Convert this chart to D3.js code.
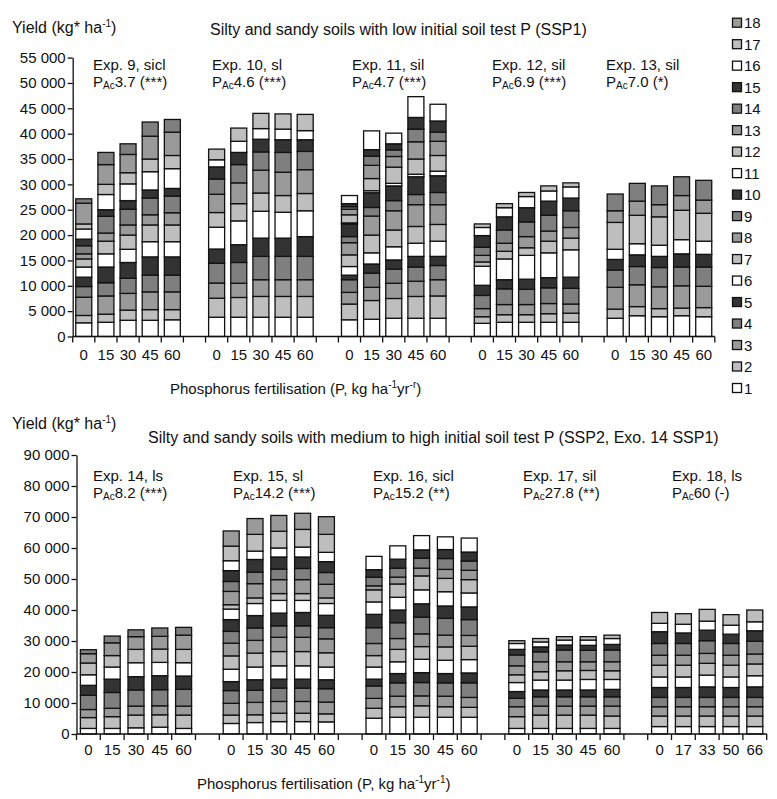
<!DOCTYPE html>
<html>
<head>
<meta charset="utf-8">
<script src="https://cdn.jsdelivr.net/npm/d3@7"></script>
<style>
    body {
        margin: 0;
        background: #ffffff;
    }

    svg {
        display: block;
        font-family: "Liberation Sans", Arial, Helvetica, sans-serif;
    }

    text {
        font-size: 15px;
        fill: #111;
    }

    text.title {
        font-size: 16px;
    }
</style>
</head>
<body>
<svg width="777" height="799"></svg>
<script>
    // seasons (legend entries), bottom of each bar first
    const SEASONS = ["1", "2", "3", "4", "5", "6", "7", "8", "9", "10", "11", "12", "13", "14", "15", "16", "17", "18"];
    // the five fills repeat every five seasons
    const SHADES = ["#ffffff", "#bebebe", "#9a9a9a", "#7f7f7f", "#333333"];

    const RATES = [0, 15, 30, 45, 60];
    const RATES_18 = [0, 17, 33, 50, 66];

    const TOP_TICKS = [0, 5000, 10000, 15000, 20000, 25000, 30000, 35000, 40000, 45000, 50000, 55000];
    const BOTTOM_TICKS = [0, 10000, 20000, 30000, 40000, 50000, 60000, 70000, 80000, 90000];

    // yield per season in t/ha, one row per P rate
    const EXP9 = [
        [2.7, 1.45, 3.6, 2.1, 1.85, 2.0, 1.6, 1.0, 1.6, 1.3, 2.0, 1.0, 4.1, 0.85],
        [2.8, 1.6, 3.6, 2.6, 3.1, 2.6, 2.5, 1.6, 3.3, 1.3, 3.0, 2.0, 3.9, 2.4],
        [3.2, 2.0, 3.3, 3.0, 3.1, 2.6, 2.8, 2.0, 3.1, 1.7, 3.3, 2.2, 3.6, 2.1],
        [3.2, 2.1, 3.5, 3.3, 3.6, 3.0, 3.3, 2.0, 3.3, 1.6, 3.6, 2.5, 4.5, 2.8],
        [3.3, 2.0, 3.5, 3.3, 3.6, 3.0, 3.3, 2.4, 3.3, 1.5, 3.9, 2.6, 4.6, 2.5]
    ];
    const EXP10 = [
        [3.8, 3.75, 3.0, 3.9, 2.8, 4.3, 2.9, 3.6, 3.0, 2.4, 1.4, 2.1],
        [3.8, 3.9, 2.8, 4.1, 3.5, 4.7, 3.4, 4.1, 3.6, 2.4, 2.2, 2.6],
        [3.8, 4.1, 3.3, 4.6, 3.6, 5.3, 3.6, 4.5, 3.6, 2.5, 2.1, 3.0],
        [3.8, 4.1, 3.3, 4.6, 3.6, 5.1, 3.3, 4.6, 3.9, 2.5, 2.1, 3.0],
        [3.8, 4.1, 3.3, 4.6, 3.9, 5.1, 3.4, 4.7, 3.6, 2.3, 1.8, 3.2]
    ];
    const EXP11 = [
        [3.3, 3.1, 2.3, 2.5, 0.9, 1.7, 2.3, 2.4, 1.2, 2.5, 0.2, 1.6, 1.1, 0.5, 0.6, 1.6],
        [3.4, 3.7, 2.6, 2.8, 1.8, 2.2, 3.5, 3.75, 1.7, 2.9, 0.4, 2.4, 2.6, 1.8, 1.3, 3.7],
        [3.6, 3.9, 3.0, 2.8, 1.8, 2.6, 3.3, 3.8, 2.0, 2.9, 0.5, 3.2, 2.1, 1.3, 1.2, 2.1],
        [3.6, 4.3, 3.0, 2.8, 2.1, 2.6, 3.3, 4.3, 2.0, 3.5, 0.5, 3.0, 3.4, 2.5, 2.3, 4.1],
        [3.6, 4.4, 3.2, 2.8, 1.8, 3.0, 3.3, 3.9, 2.4, 3.3, 0.9, 3.1, 2.8, 1.8, 2.2, 3.3]
    ];
    const EXP12 = [
        [2.6, 1.3, 1.6, 2.6, 2.0, 3.75, 0.85, 1.3, 1.6, 2.3, 1.6, 0.7],
        [2.8, 1.5, 2.0, 3.1, 1.8, 4.1, 1.5, 1.6, 2.6, 2.6, 1.8, 0.8],
        [2.8, 1.5, 2.0, 3.0, 2.0, 4.7, 1.5, 2.2, 2.9, 2.8, 2.2, 0.8],
        [2.8, 1.7, 2.0, 3.1, 2.0, 4.9, 2.3, 2.0, 3.1, 2.8, 2.0, 1.0],
        [2.8, 1.8, 1.8, 3.1, 2.2, 5.4, 2.3, 2.1, 3.3, 2.5, 2.2, 0.8]
    ];
    const EXP13 = [
        [3.6, 1.8, 4.3, 3.4, 2.1, 2.0, 5.3, 2.3, 3.3],
        [4.1, 1.8, 4.3, 3.6, 2.3, 2.2, 5.6, 2.8, 3.5],
        [3.9, 1.6, 4.3, 3.8, 2.2, 2.2, 5.6, 2.4, 3.7],
        [4.1, 1.5, 4.4, 3.7, 2.6, 2.8, 5.8, 2.9, 3.7],
        [3.9, 1.8, 4.2, 3.8, 2.5, 2.6, 5.5, 2.6, 3.9]
    ];
    const EXP14 = [
        [1.8, 3.5, 2.6, 4.6, 3.2, 3.4, 3.8, 3.0, 1.3],
        [1.8, 3.8, 2.7, 5.1, 4.3, 3.9, 3.7, 4.1, 2.2],
        [2.0, 4.1, 2.9, 5.2, 4.3, 4.5, 4.3, 4.1, 2.2],
        [2.2, 4.0, 2.9, 5.2, 4.5, 4.3, 4.3, 4.1, 2.7],
        [1.8, 4.3, 2.9, 5.4, 4.3, 4.3, 4.3, 4.6, 2.5]
    ];
    const EXP15 = [
        [3.4, 2.7, 3.8, 4.1, 2.9, 4.0, 4.3, 4.1, 3.8, 3.8, 3.4, 1.4, 4.3, 3.2, 3.5, 3.2, 4.7, 4.9],
        [3.7, 2.5, 4.0, 3.9, 3.4, 4.1, 4.5, 4.1, 4.0, 4.0, 3.9, 1.8, 4.6, 3.7, 4.1, 2.7, 5.4, 5.1],
        [4.0, 2.7, 3.8, 4.3, 2.9, 4.3, 4.6, 4.6, 3.7, 4.1, 4.1, 2.2, 4.5, 3.4, 3.9, 2.9, 5.4, 5.1],
        [4.0, 2.7, 3.8, 4.3, 2.9, 4.3, 4.6, 4.6, 3.7, 4.3, 3.9, 2.2, 4.5, 3.6, 3.7, 3.2, 5.7, 5.2],
        [3.9, 2.6, 3.8, 4.3, 2.9, 4.1, 4.6, 4.5, 3.6, 4.0, 3.8, 1.8, 4.4, 3.8, 3.5, 3.0, 5.8, 5.7]
    ];
    const EXP16 = [
        [5.1, 3.2, 3.2, 4.0, 2.2, 3.9, 3.7, 3.9, 5.1, 4.3, 4.0, 3.9, 1.3, 2.8, 2.4, 4.3],
        [5.4, 3.4, 3.4, 4.3, 3.0, 3.8, 4.0, 3.5, 5.1, 4.1, 4.1, 4.3, 2.2, 2.9, 2.9, 4.3],
        [5.4, 3.7, 3.2, 4.3, 3.2, 4.3, 4.1, 4.1, 5.4, 4.3, 4.5, 4.5, 2.5, 3.2, 2.7, 4.6],
        [5.4, 3.4, 3.4, 4.3, 3.0, 4.3, 4.3, 3.8, 5.4, 4.0, 4.6, 4.3, 2.9, 3.5, 2.9, 4.1],
        [5.4, 3.2, 3.2, 4.7, 3.2, 4.3, 4.3, 3.5, 5.1, 4.1, 4.5, 4.3, 3.0, 3.0, 2.9, 4.5]
    ];
    const EXP17 = [
        [1.8, 3.8, 3.2, 2.7, 2.2, 2.9, 2.5, 2.9, 3.5, 1.8, 1.9, 0.9],
        [1.8, 4.3, 2.9, 3.0, 2.2, 3.2, 2.7, 3.2, 3.2, 1.6, 1.6, 1.1],
        [1.8, 4.3, 2.9, 3.0, 2.2, 3.2, 3.0, 2.9, 3.8, 1.6, 1.6, 1.1],
        [1.8, 4.3, 2.9, 3.0, 2.2, 3.4, 2.9, 2.8, 3.7, 1.6, 1.7, 1.1],
        [1.8, 4.0, 3.2, 3.0, 2.4, 3.2, 2.8, 2.9, 3.8, 1.8, 1.9, 1.1]
    ];
    const EXP18 = [
        [2.4, 3.4, 3.0, 3.0, 3.2, 3.4, 3.8, 3.2, 3.8, 3.8, 2.7, 3.5],
        [2.4, 3.4, 3.0, 3.0, 3.2, 3.4, 3.8, 3.2, 3.8, 3.4, 2.8, 3.4],
        [2.4, 3.4, 3.0, 3.0, 3.4, 3.8, 3.8, 3.2, 4.1, 3.4, 2.9, 3.8],
        [2.4, 3.4, 3.0, 3.0, 3.2, 3.4, 3.8, 3.2, 3.8, 3.0, 2.9, 3.4],
        [2.4, 3.4, 3.0, 3.0, 3.4, 3.6, 3.8, 3.2, 4.1, 3.4, 2.9, 3.8]
    ];

    const TOP_EXPS = [
        { name: "Exp. 9, sicl", pac: "3.7 (***)", rates: RATES, bars: EXP9 },
        { name: "Exp. 10, sl", pac: "4.6 (***)", rates: RATES, bars: EXP10 },
        { name: "Exp. 11, sil", pac: "4.7 (***)", rates: RATES, bars: EXP11 },
        { name: "Exp. 12, sil", pac: "6.9 (***)", rates: RATES, bars: EXP12 },
        { name: "Exp. 13, sil", pac: "7.0 (*)", rates: RATES, bars: EXP13 }
    ];
    const BOTTOM_EXPS = [
        { name: "Exp. 14, ls", pac: "8.2 (***)", rates: RATES, bars: EXP14 },
        { name: "Exp. 15, sl", pac: "14.2 (***)", rates: RATES, bars: EXP15 },
        { name: "Exp. 16, sicl", pac: "15.2 (**)", rates: RATES, bars: EXP16 },
        { name: "Exp. 17, sil", pac: "27.8 (**)", rates: RATES, bars: EXP17 },
        { name: "Exp. 18, ls", pac: "60 (-)", rates: RATES_18, bars: EXP18 }
    ];

    const svg = d3.select("svg");
    const fmt = d3.formatLocale({ decimal: ".", thousands: " ", grouping: [3], currency: ["", ""] }).format(",");

    function supText(sel, parts) {
        // parts: [text, isSuperscript]
        parts.forEach(([t, sup]) => {
            sel.append("tspan")
                .attr("dy", sup ? -6 : (sel.node().childNodes.length ? 6 : 0))
                .style("font-size", sup ? "10px" : null)
                .text(t);
        });
    }

    function drawPanel(p) {
        const g = svg.append("g");
        const keys = [];
        p.exps.forEach((e, gi) => {
            e.rates.forEach((r, i) => keys.push(gi + "-" + i));
            if (gi < p.exps.length - 1) keys.push("gap" + gi);
        });
        const x = d3.scaleBand().domain(keys).range(p.xRange);
        const pad = 1 - 16 / x.step();
        x.paddingInner(pad).paddingOuter(pad / 2);
        const y = d3.scaleLinear()
            .domain([0, p.ticks[p.ticks.length - 1]])
            .range(p.yRange);

        // bars
        p.exps.forEach((e, gi) => {
            e.bars.forEach((vals, i) => {
                const tops = d3.cumsum(vals);
                g.selectAll(null)
                    .data(vals)
                    .join("rect")
                    .attr("x", x(gi + "-" + i))
                    .attr("width", x.bandwidth())
                    .attr("y", (v, j) => y(tops[j] * 1000))
                    .attr("height", (v, j) => y((tops[j] - v) * 1000) - y(tops[j] * 1000))
                    .attr("fill", (v, j) => SHADES[j % 5])
                    .attr("stroke", "#111")
                    .attr("stroke-width", 1.3);
            });
            // P rate labels
            g.selectAll(null)
                .data(e.rates)
                .join("text")
                .attr("x", (r, i) => x(gi + "-" + i) + x.bandwidth() / 2)
                .attr("y", y(0) + p.labelDy)
                .attr("text-anchor", "middle")
                .text(r => r);
            // experiment annotation
            g.append("text")
                .attr("x", p.annX[gi])
                .attr("y", p.annY)
                .text(e.name);
            const pl = g.append("text")
                .attr("x", p.annX[gi])
                .attr("y", p.annY + 17);
            pl.append("tspan").text("P");
            pl.append("tspan").attr("dy", 2).style("font-size", "10px").text("Ac");
            pl.append("tspan").attr("dy", -2).text(e.pac);
        });

        // y axis
        const ya = g.append("g")
            .attr("transform", `translate(${p.xRange[0]},0)`)
            .call(d3.axisLeft(y).tickValues(p.ticks).tickFormat(fmt).tickSize(5).tickSizeOuter(0));
        ya.selectAll("text").style("font-size", "15px").attr("fill", "#111").attr("x", -7);
        ya.selectAll("line,path").attr("stroke", "#111").attr("stroke-width", 1.3);
        ya.attr("font-family", null);

        // x axis with a tick on every slot boundary
        g.append("line")
            .attr("x1", p.xRange[0]).attr("x2", p.xRange[1])
            .attr("y1", y(0)).attr("y2", y(0))
            .attr("stroke", "#111").attr("stroke-width", 1.3);
        g.selectAll(null)
            .data(d3.range(keys.length + 1))
            .join("line")
            .attr("x1", k => p.xRange[0] + k * x.step())
            .attr("x2", k => p.xRange[0] + k * x.step())
            .attr("y1", y(0)).attr("y2", y(0) + 6)
            .attr("stroke", "#111").attr("stroke-width", 1.3);

        // titles
        supText(g.append("text").attr("class", "title").attr("x", 12).attr("y", p.yieldY),
            [["Yield (kg* ha", false], ["-1", true], [")", false]]);
        g.append("text").attr("class", "title").attr("x", p.titleX).attr("y", p.titleY).text(p.title);
        supText(g.append("text").attr("x", p.xTitleX).attr("y", p.xTitleY),
            [["Phosphorus fertilisation (P, kg ha", false], ["-1", true], ["yr", false], [p.yrExp, true], [")", false]]);
    }

    drawPanel({
        exps: TOP_EXPS, ticks: TOP_TICKS,
        xRange: [72.7, 714.8], yRange: [336.5, 57.6],
        labelDy: 23, annX: [93, 212, 352, 492, 606], annY: 70,
        yieldY: 27, titleX: 210, titleY: 35,
        title: "Silty and sandy soils with low initial soil test P (SSP1)",
        xTitleX: 170, xTitleY: 388, yrExp: "-r"
    });
    drawPanel({
        exps: BOTTOM_EXPS, ticks: BOTTOM_TICKS,
        xRange: [76.5, 766.7], yRange: [734, 455],
        labelDy: 21, annX: [93, 233, 373, 523, 672], annY: 481,
        yieldY: 423, titleX: 148, titleY: 443,
        title: "Silty and sandy soils with medium to high initial soil test P (SSP2, Exo. 14 SSP1)",
        xTitleX: 197, xTitleY: 783, yrExp: "-1"
    });

    // legend, season 18 on top
    const legY = d3.scalePoint().domain(SEASONS.slice().reverse()).range([22.7, 388]);
    const leg = svg.append("g");
    leg.selectAll("rect")
        .data(SEASONS)
        .join("rect")
        .attr("x", 732.5)
        .attr("y", s => legY(s) - 4.5)
        .attr("width", 9).attr("height", 9)
        .attr("fill", (s, i) => SHADES[i % 5])
        .attr("stroke", "#111").attr("stroke-width", 1.3);
    leg.selectAll("text")
        .data(SEASONS)
        .join("text")
        .attr("x", 744)
        .attr("y", s => legY(s) + 5.5)
        .text(s => s);
</script>
</body>
</html>
